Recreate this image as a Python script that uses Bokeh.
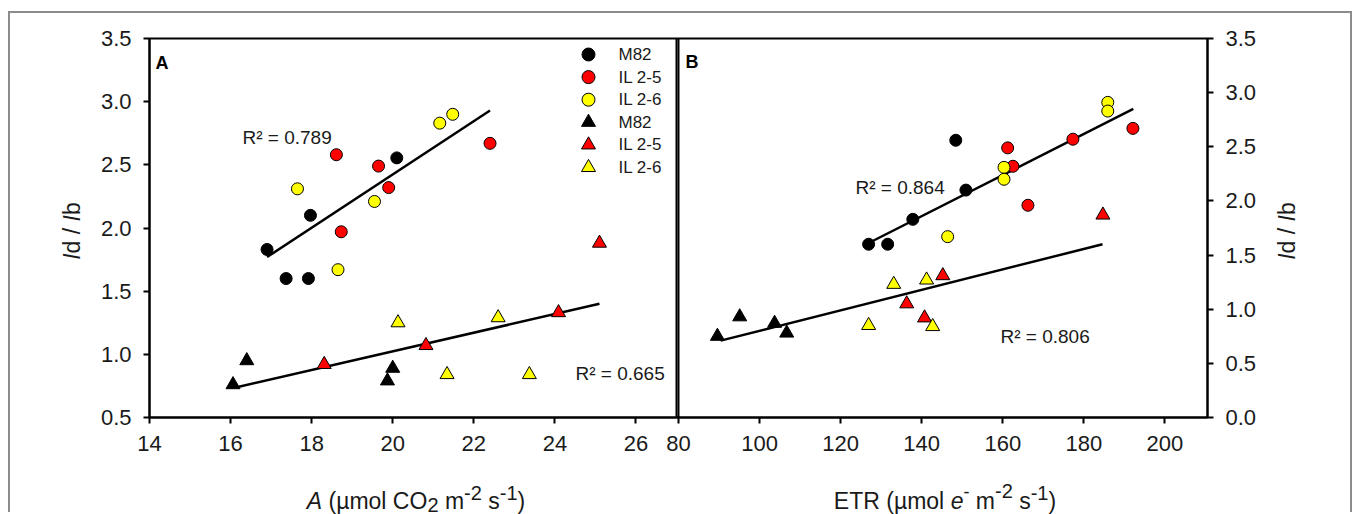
import math
from bokeh.plotting import figure
from bokeh.models import Range1d, LinearAxis, FixedTicker, Span, Label, PrintfTickFormatter, Div
from bokeh.layouts import column
from bokeh.embed import file_html
from bokeh.resources import INLINE

# ---------------- data ----------------
# Panel A : x = A (umol CO2 m-2 s-1), y = Id/Ib
a_m82_c_x = [16.9, 17.37, 17.92, 17.97, 20.1]
a_m82_c_y = [1.83, 1.60, 1.60, 2.10, 2.555]
a_25_c_x = [18.61, 18.73, 19.65, 19.9, 22.4]
a_25_c_y = [2.58, 1.97, 2.49, 2.32, 2.67]
a_26_c_x = [17.65, 18.65, 19.55, 21.16, 21.48]
a_26_c_y = [2.31, 1.67, 2.21, 2.83, 2.90]
a_m82_t_x = [16.06, 16.4, 19.87, 20.0]
a_m82_t_y = [0.76, 0.95, 0.79, 0.89]
a_25_t_x = [18.31, 20.82, 24.09, 25.1]
a_25_t_y = [0.92, 1.07, 1.33, 1.88]
a_26_t_x = [20.13, 21.34, 22.6, 23.37]
a_26_t_y = [1.25, 0.84, 1.29, 0.84]
a_fit_c_x = [16.9, 22.4]
a_fit_c_y = [1.77, 2.93]
a_fit_t_x = [16.15, 25.1]
a_fit_t_y = [0.74, 1.40]
a_r2 = ["R\u00b2 = 0.789", "R\u00b2 = 0.665"]

# Panel B : x = ETR (umol e- m-2 s-1), y = Id/Ib (right axis 0-3.5)
b_m82_c_x = [126.9, 131.6, 137.8, 150.9, 148.4]
b_m82_c_y = [1.60, 1.60, 1.83, 2.10, 2.56]
b_25_c_x = [161.2, 162.5, 166.2, 177.3, 192.1]
b_25_c_y = [2.49, 2.32, 1.96, 2.57, 2.67]
b_26_c_x = [146.4, 160.3, 160.3, 185.9, 185.9]
b_26_c_y = [1.67, 2.31, 2.20, 2.91, 2.83]
b_m82_t_x = [89.6, 95.1, 103.7, 106.7]
b_m82_t_y = [0.75, 0.93, 0.87, 0.78]
b_25_t_x = [136.3, 140.7, 145.2, 184.7]
b_25_t_y = [1.05, 0.92, 1.31, 1.87]
b_26_t_x = [126.9, 133.1, 141.2, 142.7]
b_26_t_y = [0.85, 1.23, 1.27, 0.84]
b_fit_c_x = [127.9, 192.2]
b_fit_c_y = [1.63, 2.85]
b_fit_t_x = [90.4, 184.6]
b_fit_t_y = [0.71, 1.60]
b_r2 = ["R\u00b2 = 0.864", "R\u00b2 = 0.806"]

legend_labels = ["M82", "IL 2-5", "IL 2-6", "M82", "IL 2-5", "IL 2-6"]
legend_markers = ["circle", "circle", "circle", "triangle", "triangle", "triangle"]
series_colors = ["#000000", "#ff0000", "#ffff00"]

a_ticks = [14, 16, 18, 20, 22, 24, 26]
b_ticks = [80, 100, 120, 140, 160, 180, 200]
a_y_ticks = [0.5, 1.0, 1.5, 2.0, 2.5, 3.0, 3.5]
b_y_ticks = [0.0, 0.5, 1.0, 1.5, 2.0, 2.5, 3.0, 3.5]

x_title_a = ('<i>A</i> (\u00b5mol CO<span style="position:relative;top:3px;font-size:20px">2</span>'
             ' m<span style="position:relative;top:-9px;font-size:20px">-2</span>'
             ' s<span style="position:relative;top:-9px;font-size:20px">-1</span>)')
x_title_b = ('ETR (\u00b5mol <i>e</i><span style="position:relative;top:-11px;font-size:18px">-</span>'
             ' m<span style="position:relative;top:-11px;font-size:20px">-2</span>'
             ' s<span style="position:relative;top:-9px;font-size:20px">-1</span>)')
y_title = '<i>I</i>d / <i>I</i>b'

# ---------------- layout geometry (page pixels) ----------------
OX, OY = 10, 13            # canvas origin on the page
FL, FR, FT, FB = 149, 1207, 38, 417
A_X0, A_X1 = 14.0, 27.0
A_PX1 = 676
B_X0, B_X1 = 80.0, 210.5
B_PX0 = 678
A_Y0, A_Y1 = 0.5, 3.5
B_Y0, B_Y1 = 0.0, 3.5

SA = (A_PX1 - FL) / (A_X1 - A_X0)
SB = (FR - B_PX0) / (B_X1 - B_X0)
SY = (FB - FT) / (A_Y1 - A_Y0)

def ax(px):  # page x -> A data x
    return A_X0 + (px - FL) / SA

def ay(py):  # page y -> A data y
    return A_Y0 + (FB - py) / SY

def b_to_a(xb):
    return ax(B_PX0 + (xb - B_X0) * SB)

FONT = "Liberation Sans"
TXT = "#1a1a1a"

width = 1344
height = 501
p = figure(width=width, height=height, output_backend="svg", toolbar_location=None,
           x_range=Range1d(A_X0, ax(FR)), y_range=Range1d(A_Y0, A_Y1),
           min_border_left=FL - OX, min_border_right=width - (FL - OX) - (FR - FL),
           min_border_top=FT - OY, min_border_bottom=height - (FT - OY) - (FB - FT),
           background_fill_color="white", border_fill_color="white")
p.extra_x_ranges = {"b": Range1d(B_X0 - (B_PX0 - FL) / SB, B_X1)}
p.extra_y_ranges = {"b": Range1d(B_Y0, B_Y1)}
p.styles = {"margin-top": "11px", "margin-left": "8px",
            "border-top": "2px solid #8c8c8c", "border-left": "2px solid #8c8c8c",
            "border-right": "2px solid #8c8c8c"}
p.grid.visible = False
p.outline_line_color = "black"
p.outline_line_width = 2

def style_axis(a):
    a.major_label_text_font = FONT
    a.major_label_text_font_size = "22px"
    a.major_label_text_color = TXT
    a.major_tick_out = 6
    a.major_tick_in = 0
    a.minor_tick_out = 0
    a.minor_tick_in = 0
    a.axis_line_width = 2
    a.axis_line_color = "black"
    a.major_tick_line_width = 2
    a.major_tick_line_color = "black"
    a.major_label_standoff = 12

# bottom axis (shared by both panels, labels mapped)
xa = p.xaxis[0]
xt = [float(t) for t in a_ticks] + [b_to_a(t) for t in b_ticks]
xa.ticker = FixedTicker(ticks=xt)
overrides = {}
for t in a_ticks:
    overrides[float(t)] = str(t)
for t in b_ticks:
    overrides[b_to_a(t)] = str(t)
xa.major_label_overrides = overrides
style_axis(xa)

ya = p.yaxis[0]
ya.ticker = FixedTicker(ticks=a_y_ticks)
ya.formatter = PrintfTickFormatter(format="%.1f")
style_axis(ya)

yb = LinearAxis(y_range_name="b", ticker=FixedTicker(ticks=b_y_ticks),
                formatter=PrintfTickFormatter(format="%.1f"))
style_axis(yb)
p.add_layout(yb, "right")

# panel dividers
p.add_layout(Span(location=A_X1, dimension="height", line_color="black", line_width=2))
p.add_layout(Span(location=b_to_a(B_X0), dimension="height", line_color="black", line_width=2))

# regression lines
p.line(a_fit_c_x, a_fit_c_y, line_color="black", line_width=2.5)
p.line(a_fit_t_x, a_fit_t_y, line_color="black", line_width=2.5)
p.line(b_fit_c_x, b_fit_c_y, line_color="black", line_width=2.5, x_range_name="b", y_range_name="b")
p.line(b_fit_t_x, b_fit_t_y, line_color="black", line_width=2.5, x_range_name="b", y_range_name="b")

CS, TS = 12, 14

def pts(xs, ys, marker, color, rn=None):
    kw = {}
    if rn:
        kw = dict(x_range_name=rn, y_range_name=rn)
    p.scatter(xs, ys, marker=marker, size=CS if marker == "circle" else TS,
              fill_color=color, line_color="black", line_width=1, **kw)

pts(a_m82_c_x, a_m82_c_y, "circle", series_colors[0])
pts(a_25_c_x, a_25_c_y, "circle", series_colors[1])
pts(a_26_c_x, a_26_c_y, "circle", series_colors[2])
pts(a_m82_t_x, a_m82_t_y, "triangle", series_colors[0])
pts(a_25_t_x, a_25_t_y, "triangle", series_colors[1])
pts(a_26_t_x, a_26_t_y, "triangle", series_colors[2])
pts(b_m82_c_x, b_m82_c_y, "circle", series_colors[0], "b")
pts(b_25_c_x, b_25_c_y, "circle", series_colors[1], "b")
pts(b_26_c_x, b_26_c_y, "circle", series_colors[2], "b")
pts(b_m82_t_x, b_m82_t_y, "triangle", series_colors[0], "b")
pts(b_25_t_x, b_25_t_y, "triangle", series_colors[1], "b")
pts(b_26_t_x, b_26_t_y, "triangle", series_colors[2], "b")

def label(text, px, py, size, style="normal", align="left", baseline="alphabetic", color=TXT):
    p.add_layout(Label(x=ax(px), y=ay(py), text=text,
                       text_font=FONT, text_font_size=f"{size}px", text_font_style=style,
                       text_color=color, text_align=align, text_baseline=baseline))

# legend (manual, inside panel A)
leg_x, leg_y0, leg_dy, leg_tx = 588, 54, 22.6, 618
for i, (lab, mk) in enumerate(zip(legend_labels, legend_markers)):
    yy = leg_y0 + i * leg_dy
    p.scatter([ax(leg_x)], [ay(yy)], marker=mk, size=13 if mk == "circle" else TS,
              fill_color=series_colors[i % 3], line_color="black", line_width=1)
    label(lab, leg_tx, yy, 17, baseline="middle")

# panel letters
label("A", 155, 62, 18, style="bold", color="black")
label("B", 685, 61, 18, style="bold", color="black")

# R^2 annotations
label(a_r2[0], 242, 137, 19)
label(a_r2[1], 575, 373, 19)
label(b_r2[0], 855, 187, 19)
label(b_r2[1], 1000, 336, 19)

# axis titles as rich HTML text, placed over the page
def title_div(html, cx, cy, w, h, rotate=False):
    st = {"position": "absolute", "left": f"{cx - w / 2}px", "top": f"{cy - h / 2}px",
          "font-family": FONT, "font-size": "23px", "color": TXT, "text-align": "center",
          "white-space": "nowrap", "line-height": f"{h}px", "overflow": "visible",
          "z-index": "10"}
    if rotate:
        st["transform"] = "rotate(-90deg)"
        st["transform-origin"] = "50% 50%"
    return Div(text=html, width=w, height=h, styles=st)

d_xa = title_div(x_title_a, 411, 496, 420, 24)
d_xb = title_div(x_title_b, 940, 496, 420, 24)
d_yl = title_div(y_title, 67, 226, 120, 24, rotate=True)
d_yr = title_div(y_title, 1282, 226, 120, 24, rotate=True)

layout = column(p, d_xa, d_xb, d_yl, d_yr)
open("out.html", "w").write(file_html(layout, INLINE))
